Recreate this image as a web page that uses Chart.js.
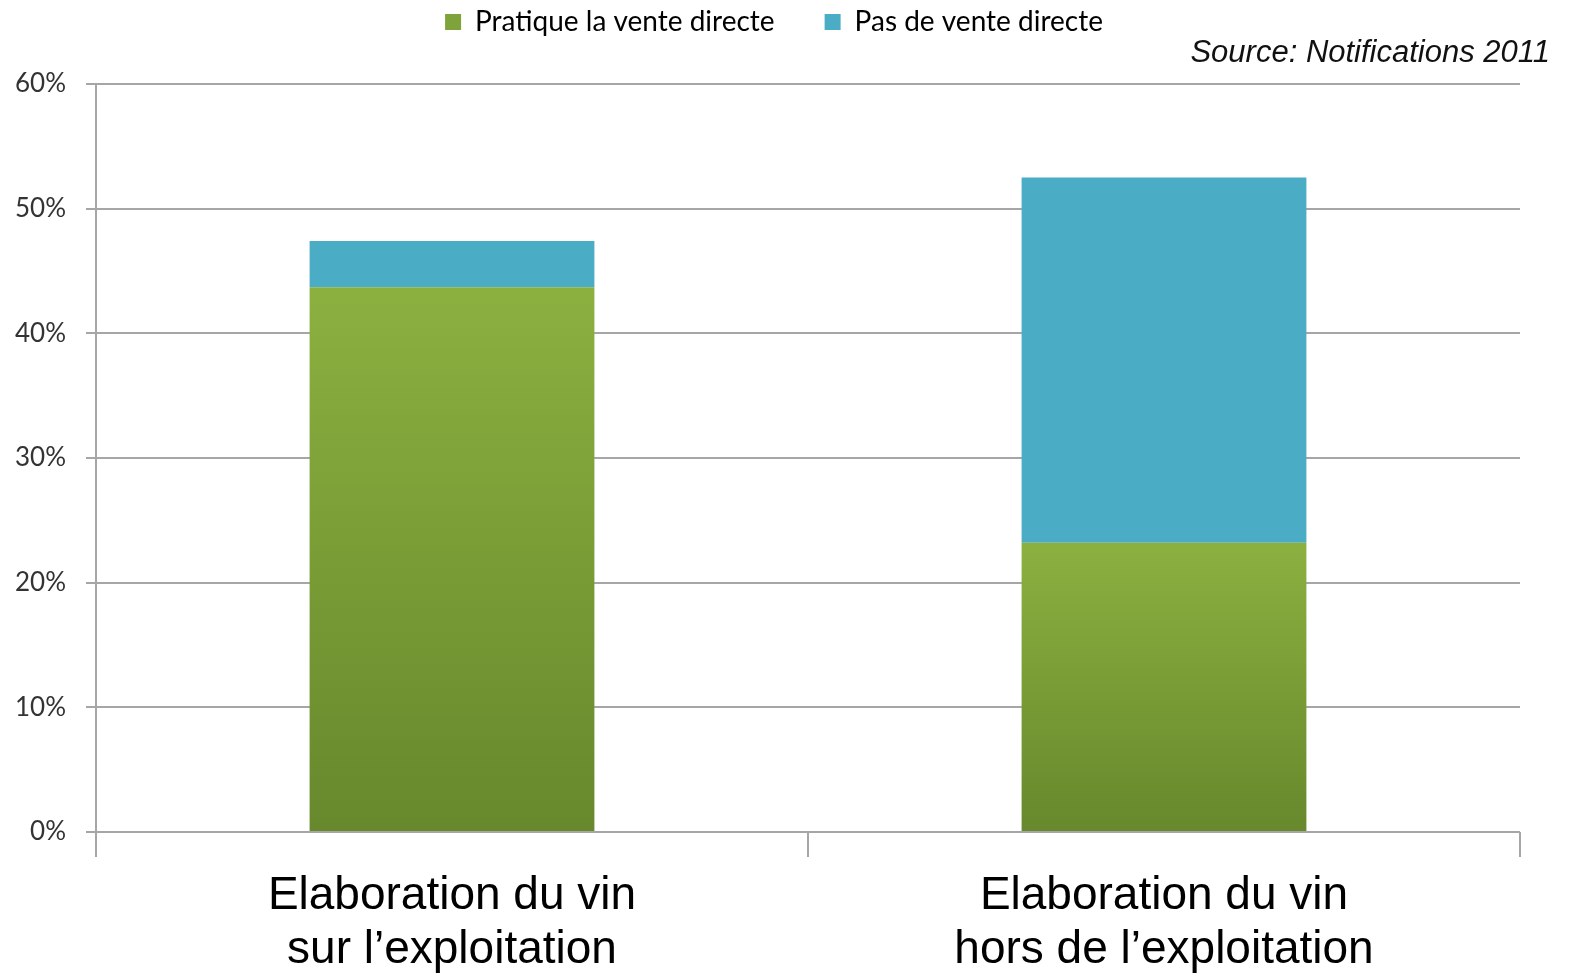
<!DOCTYPE html>
<html>
<head>
<meta charset="utf-8">
<script src="https://cdn.jsdelivr.net/npm/chart.js@4"></script>
<style>
  html, body { margin: 0; padding: 0; background: #fff; }
  #wrap { width: 1573px; height: 977px; }
</style>
</head>
<body>
<div id="wrap"><canvas id="venteChart" width="1573" height="977"></canvas></div>
<script>
// categories and series (percent of declarations)
const categories = [
  ['Elaboration du vin', 'sur l\u2019exploitation'],
  ['Elaboration du vin', 'hors de l\u2019exploitation']
];
const venteDirecte = [43.7, 23.2];
const pasVenteDirecte = [3.7, 29.3];
const yTicks = [0, 10, 20, 30, 40, 50, 60];
const sourceText = 'Source: Notifications 2011';

const gridColor = '#a6a6a6';
const legendPad = 50;

// green bars get a vertical gradient, light on top, darker at the base
const greenFill = (ctx) => {
  const chart = ctx.chart;
  const area = chart.chartArea;
  if (!area || ctx.type !== 'data') return '#7d9e38';
  const y = chart.scales.y;
  const top = y.getPixelForValue(ctx.raw);
  const bottom = y.getPixelForValue(0);
  const g = chart.ctx.createLinearGradient(0, top, 0, bottom);
  g.addColorStop(0, '#8cb040');
  g.addColorStop(1, '#67882c');
  return g;
};

// push the plot area down below the legend / source line,
// and nudge the legend a bit to the right like the original
const legendSpacer = {
  id: 'legendSpacer',
  beforeInit(chart) {
    const origFit = chart.legend.fit;
    chart.legend.fit = function () {
      origFit.bind(chart.legend)();
      this.height += 38;
    };
  },
  afterLayout(chart) {
    chart.legend.left += 28;
  }
};

const sourcePlugin = {
  id: 'sourceNote',
  afterDraw(chart) {
    const c = chart.ctx;
    c.save();
    c.font = 'italic 31px "Liberation Sans", Arial, sans-serif';
    c.fillStyle = '#111';
    c.textAlign = 'right';
    c.textBaseline = 'alphabetic';
    c.fillText(sourceText, 1550, 62);
    c.restore();
  }
};

new Chart(document.getElementById('venteChart'), {
  type: 'bar',
  data: {
    labels: categories,
    datasets: [
      {
        label: 'Pratique la vente directe',
        data: venteDirecte,
        backgroundColor: greenFill,
        borderWidth: 0,
        barPercentage: 0.4,
        categoryPercentage: 1
      },
      {
        label: 'Pas de vente directe',
        data: pasVenteDirecte,
        backgroundColor: '#4bacc6',
        borderWidth: 0,
        barPercentage: 0.4,
        categoryPercentage: 1
      }
    ]
  },
  options: {
    responsive: false,
    animation: false,
    layout: { padding: { left: 0, right: 53, top: 8 - legendPad, bottom: 0 } },
    plugins: {
      tooltip: { enabled: false },
      legend: {
        position: 'top',
        labels: {
          boxWidth: 16,
          boxHeight: 16,
          padding: legendPad,
          color: '#222',
          font: { family: 'Lato, "Open Sans", sans-serif', size: 28 },
          generateLabels(chart) {
            return chart.data.datasets.map((ds, i) => ({
              text: ds.label,
              fillStyle: i === 0 ? '#7ea33a' : '#4bacc6',
              strokeStyle: 'transparent',
              lineWidth: 0,
              datasetIndex: i
            }));
          }
        }
      }
    },
    scales: {
      x: {
        stacked: true,
        border: { display: false },
        grid: {
          offset: true,
          drawOnChartArea: false,
          drawTicks: true,
          tickLength: 25,
          color: gridColor,
          lineWidth: 2
        },
        ticks: {
          color: '#000',
          padding: 12,
          font: { family: '"Liberation Sans", Arial, sans-serif', size: 46, lineHeight: 1.18 }
        },
        afterFit(scale) { scale.height = 145; }
      },
      y: {
        stacked: true,
        min: 0,
        max: 60,
        border: { display: true, color: gridColor, width: 2 },
        grid: {
          color: gridColor,
          lineWidth: 2,
          drawTicks: true,
          tickLength: 10
        },
        afterBuildTicks(scale) {
          scale.ticks = yTicks.map(v => ({ value: v }));
        },
        ticks: {
          color: '#333',
          padding: 20,
          font: { family: 'Lato, "Open Sans", sans-serif', size: 26 },
          callback: (v) => v + '%'
        },
        afterFit(scale) { scale.width = 96; }
      }
    }
  },
  plugins: [legendSpacer, sourcePlugin]
});
</script>
</body>
</html>
